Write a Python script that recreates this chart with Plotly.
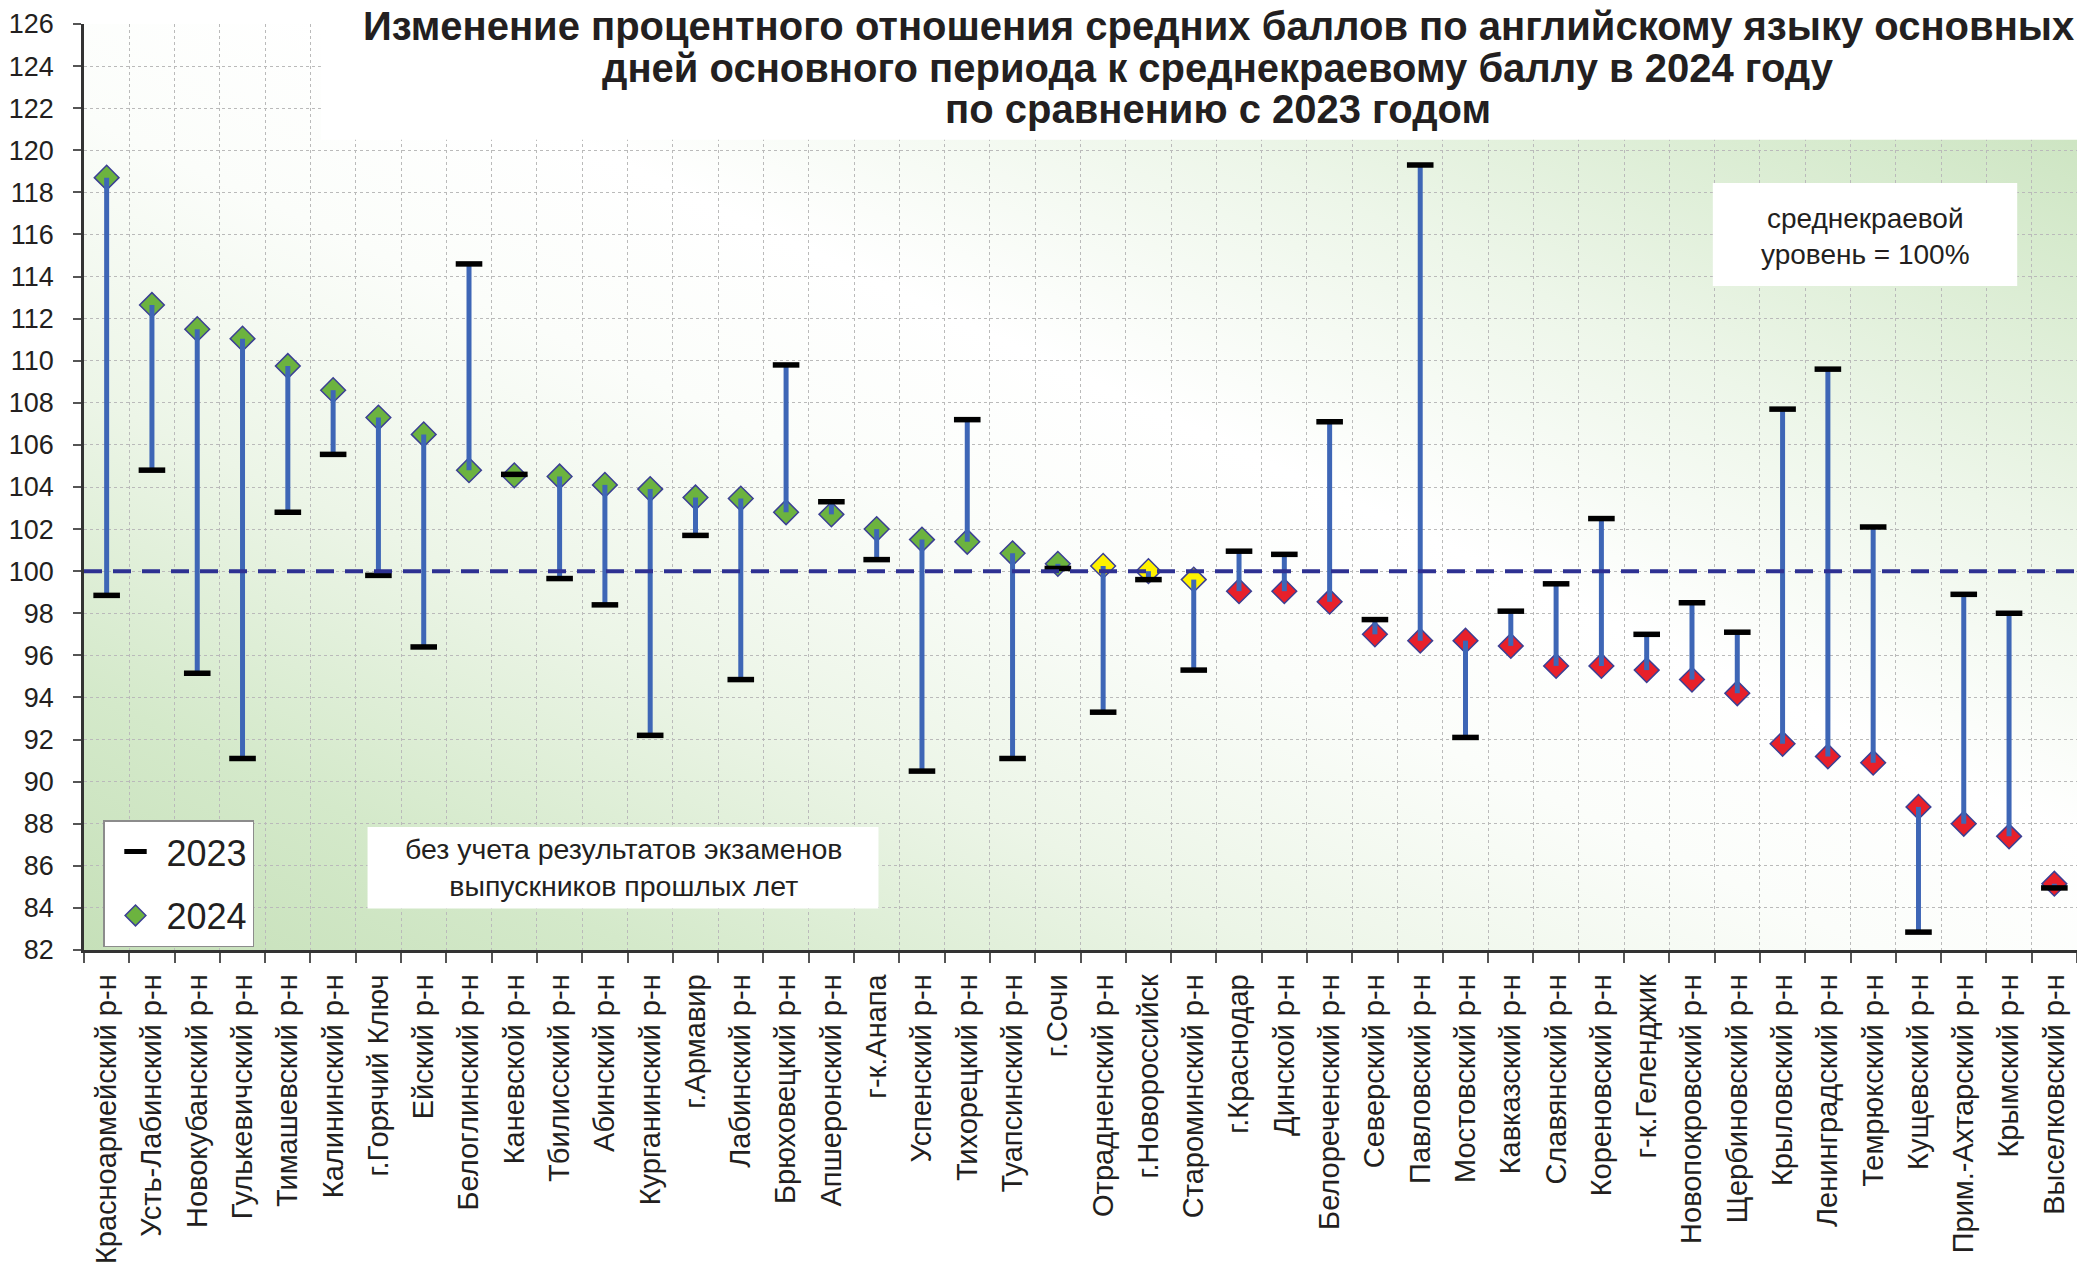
import base64
import plotly.graph_objects as go

# ---------------- data ----------------
categories = [
    "Красноармейский р-н", "Усть-Лабинский р-н", "Новокубанский р-н", "Гулькевичский р-н",
    "Тимашевский р-н", "Калининский р-н", "г.Горячий Ключ", "Ейский р-н",
    "Белоглинский р-н", "Каневской р-н", "Тбилисский р-н", "Абинский р-н",
    "Курганинский р-н", "г.Армавир", "Лабинский р-н", "Брюховецкий р-н",
    "Апшеронский р-н", "г-к.Анапа", "Успенский р-н", "Тихорецкий р-н",
    "Туапсинский р-н", "г.Сочи", "Отрадненский р-н", "г.Новороссийск",
    "Староминский р-н", "г.Краснодар", "Динской р-н", "Белореченский р-н",
    "Северский р-н", "Павловский р-н", "Мостовский р-н", "Кавказский р-н",
    "Славянский р-н", "Кореновский р-н", "г-к.Геленджик", "Новопокровский р-н",
    "Щербиновский р-н", "Крыловский р-н", "Ленинградский р-н", "Темрюкский р-н",
    "Кущевский р-н", "Прим.-Ахтарский р-н", "Крымский р-н", "Выселковский р-н",
]

values_2024 = [
    118.7, 112.65, 111.5, 111.05, 109.75, 108.6, 107.3, 106.5,
    104.8, 104.55, 104.5, 104.1, 103.9, 103.5, 103.45, 102.8,
    102.7, 102.0, 101.5, 101.4, 100.85, 100.35, 100.25, 100.0,
    99.6, 99.05, 99.05, 98.55, 97.0, 96.7, 96.7, 96.45,
    95.5, 95.5, 95.3, 94.85, 94.2, 91.8, 91.2, 90.9,
    88.8, 88.0, 87.4, 85.15,
]

values_2023 = [
    98.85, 104.8, 95.15, 91.1, 102.8, 105.55, 99.8, 96.4,
    114.6, 104.6, 99.65, 98.4, 92.2, 101.7, 94.85, 109.8,
    103.3, 100.55, 90.5, 107.2, 91.1, 100.13, 93.3, 99.6,
    95.3, 100.95, 100.8, 107.1, 97.7, 119.3, 92.1, 98.1,
    99.4, 102.5, 97.0, 98.5, 97.1, 107.7, 109.6, 102.1,
    82.85, 98.9, 98.0, 84.95,
]

# marker colour group of each 2024 point: g = green, y = yellow, r = red
color_groups = (
    ["g"] * 22 + ["y"] * 3 + ["r"] * 19
)

y_ticks = list(range(82, 127, 2))
series_names = ["2023", "2024"]
reference_level = 100

title_lines = [
    "Изменение процентного отношения средних баллов по английскому языку основных",
    "дней основного периода к среднекраевому баллу в 2024 году",
    "по сравнению с 2023 годом",
]
note_level = ["среднекраевой", "уровень = 100%"]
note_graduates = ["без учета результатов экзаменов", "выпускников прошлых лет"]

# ---------------- styles ----------------
FONT = "Liberation Sans, Arial, sans-serif"
TEXT = "#231f20"
COLORS = {"g": "#6cb33f", "y": "#fff200", "r": "#e8202a"}
STEM = "#3e66b6"
DIAMOND_EDGE = "#3b3f94"
REF_LINE = "#2e3192"
GRID = "#bababa"

W, H = 2077, 1266
M_L, M_R, M_T, M_B = 84, 0, 24, 316
PLOT_H = H - M_T - M_B
PLOT_W = W - M_L - M_R

fig = go.Figure()

# background gradient (plot area)
svg = (
    '<svg xmlns="http://www.w3.org/2000/svg" width="100" height="100" viewBox="0 0 100 100" '
    'preserveAspectRatio="none"><defs><linearGradient id="g" x1="0" y1="1" x2="1" y2="0">'
    '<stop offset="0" stop-color="#c6e0b9"/>'
    '<stop offset="0.14" stop-color="#d4e9ca"/>'
    '<stop offset="0.3" stop-color="#ecf5e7"/>'
    '<stop offset="0.45" stop-color="#fbfdfa"/>'
    '<stop offset="0.56" stop-color="#ffffff"/>'
    '<stop offset="0.72" stop-color="#edf6e9"/>'
    '<stop offset="0.88" stop-color="#d6eacd"/>'
    '<stop offset="1" stop-color="#c4dfb7"/>'
    '</linearGradient></defs><rect width="100" height="100" fill="url(#g)"/></svg>'
)
svg_uri = "data:image/svg+xml;base64," + base64.b64encode(svg.encode("utf-8")).decode("ascii")
fig.add_layout_image(
    source=svg_uri, xref="paper", yref="paper", x=0, y=1, sizex=1, sizey=1,
    xanchor="left", yanchor="top", sizing="stretch", layer="below",
)

# 2024 diamonds
fig.add_trace(go.Scatter(
    x=categories, y=values_2024, mode="markers", name=series_names[1],
    legendrank=2, legendgroup="b",
    marker=dict(symbol="diamond", size=19,
                color=[COLORS[c] for c in color_groups],
                line=dict(color=DIAMOND_EDGE, width=1.5)),
    hoverinfo="x+y",
))

# stems between 2023 and 2024
stem_x, stem_y = [], []
for c, a, b in zip(categories, values_2023, values_2024):
    stem_x += [c, c, None]
    stem_y += [a, b, None]
fig.add_trace(go.Scatter(
    x=stem_x, y=stem_y, mode="lines", showlegend=False,
    line=dict(color=STEM, width=5), hoverinfo="skip",
))

# 2023 dashes
fig.add_trace(go.Scatter(
    x=categories, y=values_2023, mode="markers", name=series_names[0],
    legendrank=1, legendgroup="a",
    marker=dict(symbol="line-ew", size=19, color="black",
                line=dict(color="black", width=5.5)),
    hoverinfo="x+y",
))

# reference line 100 %
fig.add_shape(type="line", xref="paper", yref="y", x0=0, x1=1,
              y0=reference_level, y1=reference_level,
              line=dict(color=REF_LINE, width=4, dash="18px,11px"), layer="above")

# white title block covering the top of the grid
fig.add_shape(type="rect", xref="x", yref="y", x0=4.73, x1=44, y0=120.5, y1=127,
              fillcolor="white", line=dict(width=0), layer="above")

# note boxes
fig.add_shape(type="rect", xref="x", yref="y", x0=35.46, x1=42.18, y0=113.55, y1=118.44,
              fillcolor="white", line=dict(width=0), layer="above")
fig.add_shape(type="rect", xref="x", yref="y", x0=5.76, x1=17.04, y0=83.97, y1=87.85,
              fillcolor="white", line=dict(width=0), layer="above")

# title, one annotation per line
for line, ypx in zip(title_lines, [26, 68, 109]):
    fig.add_annotation(
        xref="paper", yref="paper", x=(1218 - M_L) / PLOT_W,
        y=(H - M_B - ypx) / PLOT_H,
        text=line, showarrow=False, xanchor="center", yanchor="middle",
        font=dict(family=FONT, size=40, color=TEXT, weight="bold"),
    )

fig.add_annotation(
    xref="x", yref="y", x=38.83, y=115.9, text="<br>".join(note_level), showarrow=False,
    xanchor="center", yanchor="middle", align="center",
    font=dict(family=FONT, size=28, color=TEXT),
)
fig.add_annotation(
    xref="x", yref="y", x=11.41, y=85.9, text="<br>".join(note_graduates), showarrow=False,
    xanchor="center", yanchor="middle", align="center",
    font=dict(family=FONT, size=28.5, color=TEXT),
)

fig.update_layout(
    width=W, height=H,
    margin=dict(l=M_L, r=M_R, t=M_T, b=M_B, pad=0),
    paper_bgcolor="white", plot_bgcolor="rgba(0,0,0,0)",
    font=dict(family=FONT, color=TEXT),
    showlegend=True,
    legend=dict(
        x=(103 - M_L) / PLOT_W, y=0.003, xanchor="left", yanchor="bottom",
        bgcolor="white", bordercolor="#8c8c8c", borderwidth=1.5,
        font=dict(family=FONT, size=36, color=TEXT),
        traceorder="grouped", itemwidth=52, tracegroupgap=14,
    ),
    xaxis=dict(
        type="category", range=[-0.5, len(categories) - 0.5],
        tickson="boundaries", ticks="outside", ticklen=10, tickwidth=1.5, tickcolor="#555",
        tickangle=-90, tickfont=dict(family=FONT, size=29, color=TEXT),
        ticklabelstandoff=10,
        showline=True, linecolor="#333", linewidth=2.5,
        showgrid=True, gridcolor=GRID, griddash="dot", gridwidth=1.3,
        zeroline=False, fixedrange=True,
    ),
    yaxis=dict(
        range=[82, 126], tickvals=y_ticks, ticktext=[str(v) for v in y_ticks],
        ticks="outside", ticklen=8, tickwidth=1.5, tickcolor="#555",
        tickfont=dict(family=FONT, size=27, color=TEXT), ticklabelstandoff=14,
        showline=True, linecolor="#333", linewidth=2.5,
        showgrid=True, gridcolor=GRID, griddash="dot", gridwidth=1.3,
        zeroline=False, fixedrange=True,
    ),
)

fig.write_html(
    "out.html",
    config={"displayModeBar": False},
    post_script="document.body.style.margin='0';document.body.style.overflow='hidden';",
)
